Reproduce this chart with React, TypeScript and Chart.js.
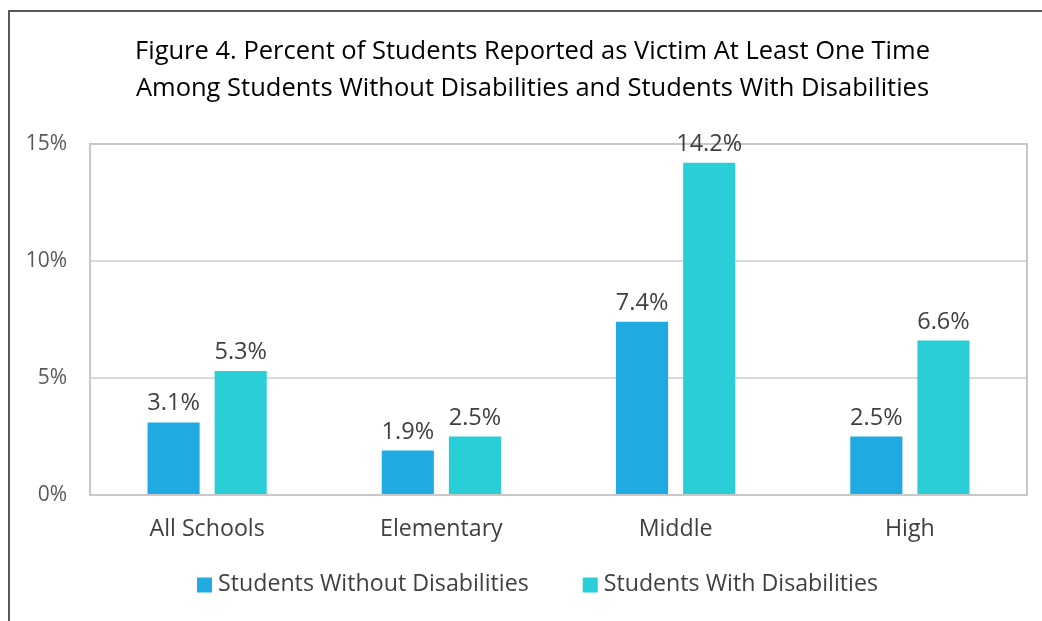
import React, { useEffect, useRef } from "react";
import { Chart, registerables } from "chart.js";

Chart.register(...registerables);

const categories = ["All Schools", "Elementary", "Middle", "High"];
const withoutDisabilities = [3.1, 1.9, 7.4, 2.5];
const withDisabilities = [5.3, 2.5, 14.2, 6.6];
const seriesNames = ["Students Without Disabilities", "Students With Disabilities"];
const seriesColors = ["#1FABE2", "#29CED6"];
const titleLines = [
  "Figure 4. Percent of Students Reported as Victim At Least One Time",
  "Among Students Without Disabilities and Students With Disabilities",
];

const FONT = "'Open Sans', sans-serif";

const plotBorder = {
  id: "plotBorder",
  beforeDatasetsDraw(chart: any) {
    const { ctx, chartArea } = chart;
    ctx.save();
    ctx.strokeStyle = "#c8c8c8";
    ctx.lineWidth = 2;
    ctx.strokeRect(chartArea.left, chartArea.top, chartArea.right - chartArea.left, chartArea.bottom - chartArea.top);
    ctx.restore();
  },
};

const customTitle = {
  id: "customTitle",
  afterDraw(chart: any) {
    const { ctx } = chart;
    ctx.save();
    ctx.font = `25.5px ${FONT}`;
    ctx.fillStyle = "#000000";
    ctx.textAlign = "center";
    ctx.textBaseline = "middle";
    titleLines.forEach((line, i) => {
      ctx.fillText(line, 532.5, 51.5 + i * 37);
    });
    ctx.restore();
  },
};

const dataLabels = {
  id: "dataLabels",
  afterDatasetsDraw(chart: any) {
    const { ctx } = chart;
    ctx.save();
    ctx.font = `23.5px ${FONT}`;
    ctx.fillStyle = "#404040";
    ctx.textAlign = "center";
    ctx.textBaseline = "alphabetic";
    chart.data.datasets.forEach((ds: any, i: number) => {
      const meta = chart.getDatasetMeta(i);
      meta.data.forEach((bar: any, j: number) => {
        ctx.fillText(ds.data[j].toFixed(1) + "%", bar.x, bar.y - 12);
      });
    });
    ctx.restore();
  },
};

const customLegend = {
  id: "customLegend",
  afterDraw(chart: any) {
    const { ctx } = chart;
    ctx.save();
    ctx.font = `23.2px ${FONT}`;
    ctx.textBaseline = "middle";
    ctx.textAlign = "left";
    const box = 15;
    const boxGap = 6;
    const itemGap = 54;
    const widths = chart.data.datasets.map((ds: any) => box + boxGap + ctx.measureText(ds.label).width);
    const total = widths.reduce((a: number, b: number) => a + b, 0) + itemGap * (widths.length - 1);
    let x = 537.5 - total / 2;
    const cy = 584;
    chart.data.datasets.forEach((ds: any, i: number) => {
      ctx.fillStyle = ds.backgroundColor;
      ctx.fillRect(x, cy - box / 2 + 1, box, box);
      ctx.fillStyle = "#404040";
      ctx.fillText(ds.label, x + box + boxGap, cy);
      x += widths[i] + itemGap;
    });
    ctx.restore();
  },
};

export default function App() {
  const ref = useRef<HTMLCanvasElement>(null);
  useEffect(() => {
    const chart = new Chart(ref.current!, {
      type: "bar",
      data: {
        labels: categories,
        datasets: [
          {
            label: seriesNames[0],
            data: withoutDisabilities,
            backgroundColor: seriesColors[0],
            categoryPercentage: 0.573,
            barPercentage: 0.776,
          },
          {
            label: seriesNames[1],
            data: withDisabilities,
            backgroundColor: seriesColors[1],
            categoryPercentage: 0.573,
            barPercentage: 0.776,
          },
        ],
      },
      options: {
        animation: false,
        responsive: false,
        maintainAspectRatio: false,
        layout: { padding: { left: 0, right: 15, top: 144, bottom: 59 } },
        plugins: {
          title: { display: false },
          legend: { display: false },
          tooltip: { enabled: false },
        },
        scales: {
          x: {
            grid: { display: false, drawTicks: false },
            border: { display: false },
            ticks: { color: "#404040", font: { family: FONT, size: 23.2 }, padding: 20 },
            afterFit: (s: any) => {
              s.height = 67;
            },
          },
          y: {
            min: 0,
            max: 15,
            grid: { color: "#d9d9d9", lineWidth: 2, drawTicks: false },
            border: { display: false },
            ticks: {
              stepSize: 5,
              color: "#595959",
              font: { family: FONT, size: 21 },
              padding: 23,
              callback: (v: any) => v + "%",
            },
            afterFit: (s: any) => {
              s.width = 90;
            },
          },
        },
      },
      plugins: [plotBorder, dataLabels, customLegend, customTitle],
    });
    return () => chart.destroy();
  }, []);

  return (
    <div style={{ position: "fixed", left: 0, top: 0, width: 1042, height: 621, background: "#fff" }}>
      <div
        style={{
          position: "absolute",
          left: 8,
          top: 10,
          width: 1100,
          height: 700,
          borderLeft: "2px solid #595959",
          borderTop: "2px solid #595959",
        }}
      />
      <canvas ref={ref} width={1042} height={621} style={{ position: "absolute", left: 0, top: 0 }} />
    </div>
  );
}
